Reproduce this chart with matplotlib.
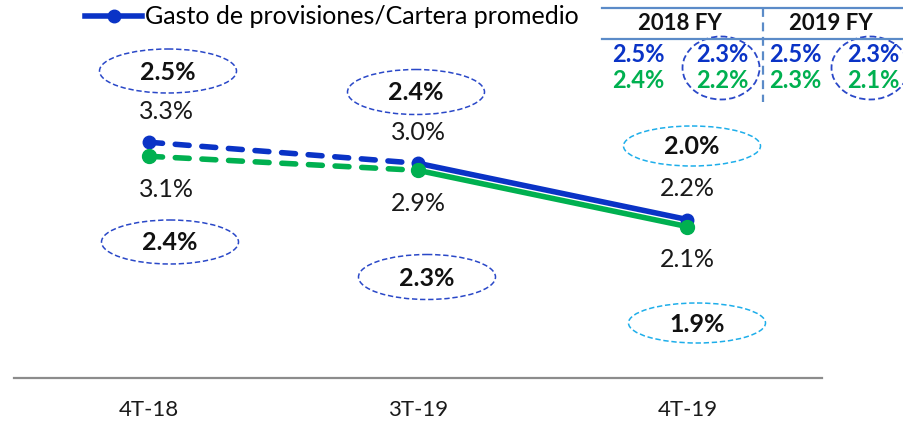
import numpy as np
import matplotlib
matplotlib.use('Agg')
import matplotlib.pyplot as plt
from matplotlib.patches import Ellipse
from matplotlib.lines import Line2D

plt.rcParams['font.family'] = ['Lato', 'DejaVu Sans']

# datos
periodos = ['4T-18', '3T-19', '4T-19']
gasto_azul = [3.3, 3.0, 2.2]
gasto_verde = [3.1, 2.9, 2.1]
burbuja_sup = ['2.5%', '2.4%', '2.0%']
burbuja_inf = ['2.4%', '2.3%', '1.9%']
anios_fy = ['2018 FY', '2019 FY']
fy_azul = ['2.5%', '2.3%', '2.5%', '2.3%']
fy_verde = ['2.4%', '2.2%', '2.3%', '2.1%']

azul = '#0A33C6'
verde = '#00B050'
celeste = '#1EAEEA'
borde = '#2A48C8'
linea_tabla = '#5B8BC8'

fig = plt.figure(figsize=(9.04, 4.26), dpi=100)
ax = fig.add_axes([14/904, 48/426, 808/904, 378/426])
x = np.arange(len(periodos))

# tramo punteado 4T-18 -> 3T-19, continuo 3T-19 -> 4T-19
ax.plot(x[:2], gasto_azul[:2], color=azul, lw=4, dashes=(2.5, 2.3),
        dash_capstyle='round', zorder=3)
l_azul, = ax.plot(x[1:], gasto_azul[1:], color=azul, lw=4, solid_capstyle='round',
                  zorder=3, label='Gasto de provisiones/Cartera promedio')
ax.plot(x, gasto_azul, 'o', color=azul, ms=9, zorder=4)
ax.plot(x[:2], gasto_verde[:2], color=verde, lw=4, dashes=(2.5, 2.3),
        dash_capstyle='round', zorder=3)
ax.plot(x[1:], gasto_verde[1:], color=verde, lw=4, solid_capstyle='round', zorder=3)
ax.plot(x, gasto_verde, 'o', color=verde, ms=10, zorder=5)

ax.set_xlim(-0.5, 2.5)
ax.set_ylim(-0.054, 5.323)

dx_lab = [18, 0, 0]
for i in range(len(x)):
    ax.annotate(f'{gasto_azul[i]:.1f}%', (x[i], gasto_azul[i]), xytext=(dx_lab[i], 31),
                textcoords='offset pixels', ha='center', va='center', fontsize=18, color='#1a1a1a')
    ax.annotate(f'{gasto_verde[i]:.1f}%', (x[i], gasto_verde[i]), xytext=(dx_lab[i], -33),
                textcoords='offset pixels', ha='center', va='center', fontsize=18, color='#1a1a1a')

for s in ['top', 'right', 'left']:
    ax.spines[s].set_visible(False)
ax.spines['bottom'].set_color('#8C8C8C')
ax.spines['bottom'].set_linewidth(1.6)
ax.set_yticks([])
ax.set_xticks(x)
ax.set_xticklabels(periodos, fontsize=16, color='#1a1a1a')
ax.tick_params(axis='x', length=0, pad=16)

leg = ax.legend(handles=[Line2D([], [], color=azul, lw=4, marker='o', ms=9)],
                labels=[l_azul.get_label()], loc='center left',
                bbox_to_anchor=(85/904, 1 - 17/426), bbox_transform=fig.transFigure,
                frameon=False, fontsize=18, handlelength=2.3, handletextpad=0.12,
                borderpad=0, borderaxespad=0)

# capa de anotaciones en pixeles
ov = fig.add_axes([0, 0, 1, 1])
ov.set_xlim(0, 904)
ov.set_ylim(426, 0)
ov.axis('off')

sup_pos = [(168, 71), (416, 92), (692, 146)]
inf_pos = [(170, 242), (427, 277), (697, 323)]
colores_b = [borde, borde, celeste]
alto_b = [44, 45, 40]
for i in range(3):
    for txt, (cx, cy) in [(burbuja_sup[i], sup_pos[i]), (burbuja_inf[i], inf_pos[i])]:
        ov.add_patch(Ellipse((cx, cy), 137, alto_b[i], fill=False, ec=colores_b[i],
                             lw=1.1, ls=(0, (3.5, 1.8))))
        ov.text(cx, cy + 1, txt, ha='center', va='center', fontsize=18,
                fontweight='bold', color='#111111')

# tabla FY
ov.plot([602, 904], [8, 8], color=linea_tabla, lw=1.6)
ov.plot([602, 904], [39, 39], color=linea_tabla, lw=1.6)
ov.plot([763, 763], [8, 102], color=linea_tabla, lw=1.6, ls=(0, (4, 2.5)))
for j, anio in enumerate(anios_fy):
    ov.text([680, 831][j], 24, anio, ha='center', va='center', fontsize=16,
            fontweight='bold', color='#111111')
col_x = [638, 722, 795, 873]
for j in range(4):
    ov.text(col_x[j], 54, fy_azul[j], ha='center', va='center', fontsize=17,
            fontweight='bold', color=azul)
    ov.text(col_x[j], 80, fy_verde[j], ha='center', va='center', fontsize=17,
            fontweight='bold', color=verde)
for cx in [721, 870]:
    ov.add_patch(Ellipse((cx, 68), 77, 63, fill=False, ec=borde, lw=1.3,
                         ls=(0, (3.5, 1.8))))

fig.savefig('out.png', dpi=100)
